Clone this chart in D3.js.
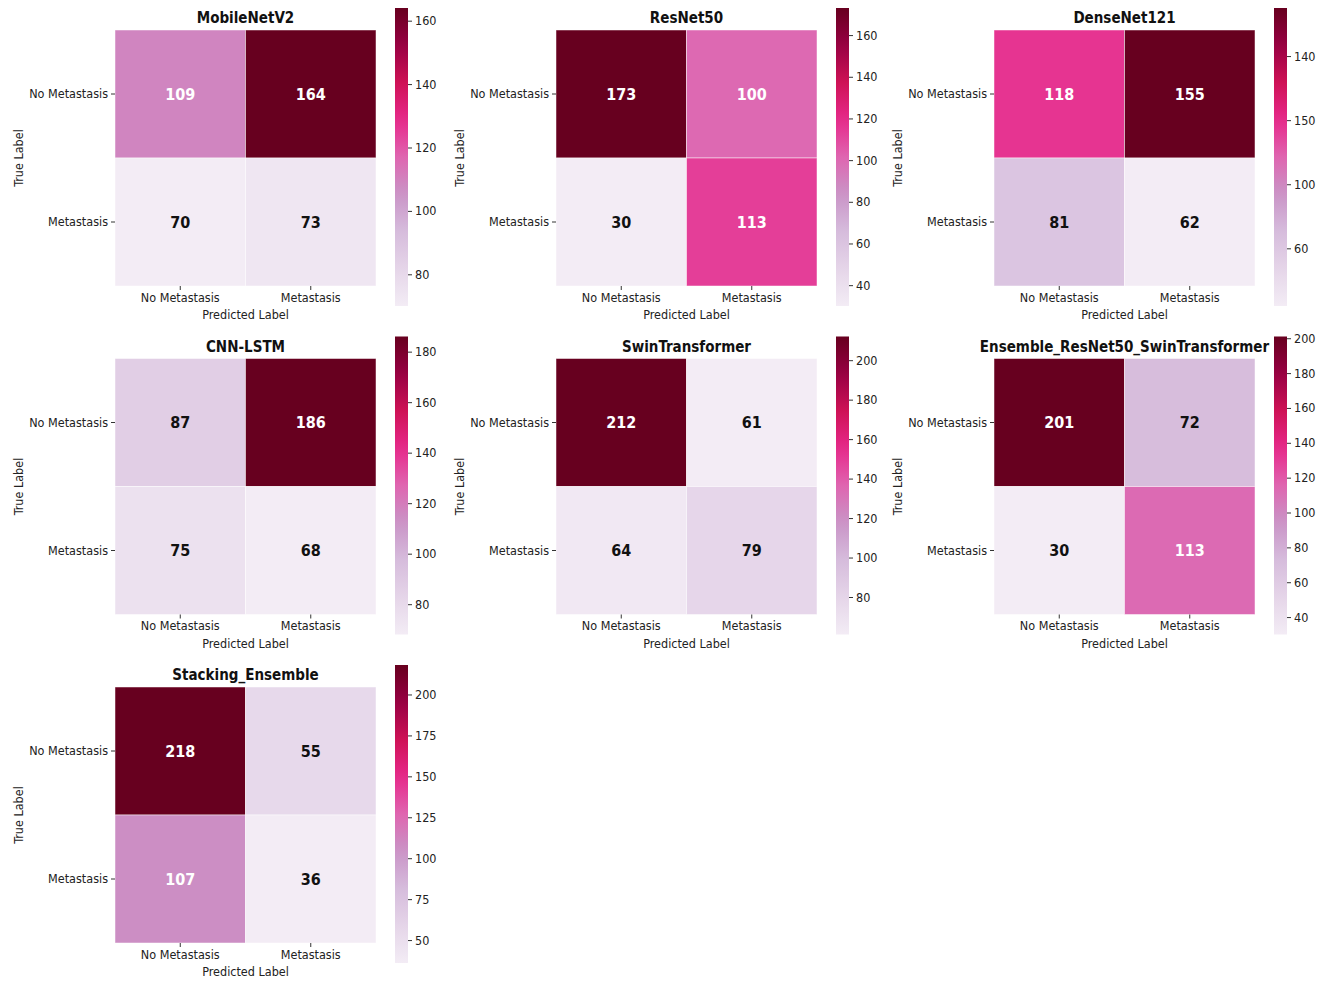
<!DOCTYPE html>
<html><head><meta charset="utf-8">
<script src="https://cdn.jsdelivr.net/npm/d3@7"></script>
<style>body{margin:0;background:#fff}svg{display:block}text{font-family:"DejaVu Sans Condensed","DejaVu Sans",sans-serif}</style>
</head><body>
<svg id="c" width="1325" height="991"></svg>
<script>
const classes = ["No Metastasis", "Metastasis"];
const models = ["MobileNetV2","ResNet50","DenseNet121","CNN-LSTM","SwinTransformer","Ensemble_ResNet50_SwinTransformer","Stacking_Ensemble"];
const matMobileNetV2 = [[109,164],[70,73]];
const matResNet50 = [[173,100],[30,113]];
const matDenseNet121 = [[118,155],[81,62]];
const matCNNLSTM = [[87,186],[75,68]];
const matSwin = [[212,61],[64,79]];
const matEnsemble = [[201,72],[30,113]];
const matStacking = [[218,55],[107,36]];
const matrices = [matMobileNetV2,matResNet50,matDenseNet121,matCNNLSTM,matSwin,matEnsemble,matStacking];
const cbTickValues = [[80,100,120,140,160],[40,60,80,100,120,140,160],[80,100,120,140],[80,100,120,140,160,180],[80,100,120,140,160,180,200],[40,60,80,100,120,140,160,180,200],[50,75,100,125,150,175,200]];
// DenseNet121 colorbar labels as printed in the reference
const denseLabels = {140:"140",120:"150",100:"100",80:"60"};
const puRd = ["#f3ecf5","#e5d5e9","#d6bcdc","#c994c7","#df65b0","#e7298a","#ce1256","#980043","#67001f"];

const svg = d3.select("#c");
const colLeft = [115, 556, 994], rowTop = [30, 358.5, 687];
const W = 261, H = 256;
const cmap = d3.scaleLinear().domain(d3.range(9).map(i=>i/8)).range(puRd).interpolate(d3.interpolateRgb);
function lum(c){const r=d3.rgb(c);const f=v=>{v/=255;return v<=0.03928?v/12.92:Math.pow((v+0.055)/1.055,2.4)};return 0.2126*f(r.r)+0.7152*f(r.g)+0.0722*f(r.b);}
const defs = svg.append("defs");

models.forEach((name,i)=>{
  const m = matrices[i];
  const x0 = colLeft[i%3], y0 = rowTop[Math.floor(i/3)];
  const g = svg.append("g").attr("transform",`translate(${x0},${y0})`);
  const flat = m.flat();
  const vmin = d3.min(flat), vmax = d3.max(flat);
  const norm = d3.scaleLinear().domain([vmin,vmax]).range([0,1]);
  const color = v=>cmap(norm(v));
  const xs = d3.scaleBand().domain(classes).range([0,W]);
  const ys = d3.scaleBand().domain(classes).range([0,H]);
  const cells = [];
  m.forEach((row,r)=>row.forEach((v,c)=>cells.push({r:classes[r],c:classes[c],v})));
  g.selectAll("rect.cell").data(cells).join("rect").attr("class","cell")
    .attr("x",d=>xs(d.c)).attr("y",d=>ys(d.r)).attr("width",xs.bandwidth()).attr("height",ys.bandwidth())
    .attr("fill",d=>color(d.v)).attr("stroke","rgba(255,255,255,0.6)").attr("stroke-width",0.8);
  g.selectAll("text.ann").data(cells).join("text").attr("class","ann")
    .attr("x",d=>xs(d.c)+xs.bandwidth()/2).attr("y",d=>ys(d.r)+ys.bandwidth()/2)
    .attr("text-anchor","middle").attr("dominant-baseline","central")
    .attr("font-size",16).attr("font-weight","bold")
    .attr("fill",d=>lum(color(d.v))>0.408?"#111":"#fff").text(d=>d.v);
  const ax = g.append("g").attr("transform",`translate(0,${H})`).call(d3.axisBottom(xs).tickSize(4).tickPadding(3));
  const ay = g.append("g").call(d3.axisLeft(ys).tickSize(4).tickPadding(3));
  [ax,ay].forEach(a=>{a.select(".domain").remove();a.selectAll("text").attr("font-size",12.5).attr("fill","#222");a.selectAll("line").attr("stroke","#333");});
  g.append("text").attr("x",W/2).attr("y",-7).attr("text-anchor","middle").attr("font-size",15).attr("font-weight","bold").attr("fill","#111").text(name);
  g.append("text").attr("x",W/2).attr("y",H+33).attr("text-anchor","middle").attr("font-size",12.5).attr("fill","#222").text("Predicted Label");
  g.append("text").attr("transform",`translate(-92,${H/2}) rotate(-90)`).attr("text-anchor","middle").attr("font-size",12.5).attr("fill","#222").text("True Label");
  const cbx = W+19, cby = -22, cbh = 298, cbw = 13;
  const gid = "grad"+i;
  const lg = defs.append("linearGradient").attr("id",gid).attr("x1",0).attr("y1",1).attr("x2",0).attr("y2",0);
  d3.range(0,1.0001,0.05).forEach(t=>lg.append("stop").attr("offset",t).attr("stop-color",cmap(t)));
  const cb = g.append("g").attr("transform",`translate(${cbx},${cby})`);
  cb.append("rect").attr("width",cbw).attr("height",cbh).attr("fill",`url(#${gid})`);
  const cs = d3.scaleLinear().domain([vmin,vmax]).range([cbh,0]);
  const axis = d3.axisRight(cs).tickValues(cbTickValues[i].filter(v=>v>=vmin&&v<=vmax)).tickSize(4).tickPadding(3);
  if(name==="DenseNet121") axis.tickFormat(v=>denseLabels[v]);
  const ca = cb.append("g").attr("transform",`translate(${cbw},0)`).call(axis);
  ca.select(".domain").remove();
  ca.selectAll("text").attr("font-size",12.5).attr("fill","#222");
  ca.selectAll("line").attr("stroke","#333");
});
</script>
</body></html>
